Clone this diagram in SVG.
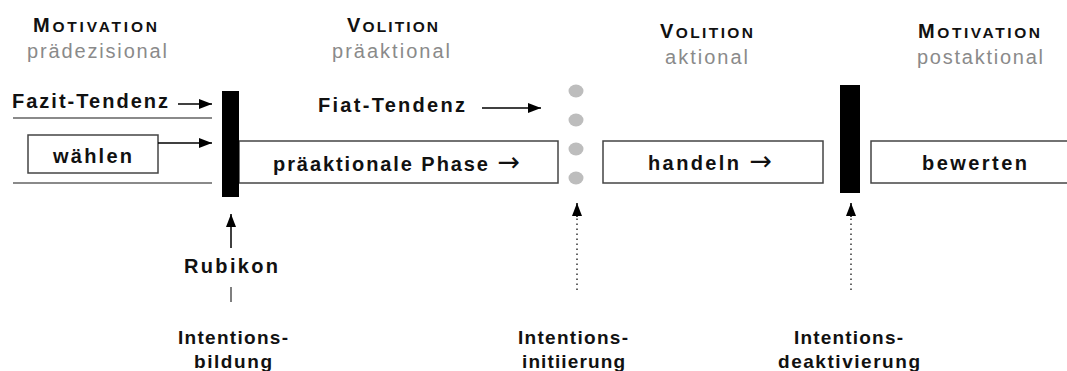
<svg xmlns="http://www.w3.org/2000/svg" width="1067" height="371" viewBox="0 0 1067 371">
  <style>
    text { font-family: "Liberation Sans", Arial, sans-serif; fill: #111; }
    .hd { font-weight: bold; font-size: 15.5px; }
    .hd .cap { font-size: 20px; }
    .sub { font-size: 20px; fill: #8a8a8a; }
    .lbl { font-weight: bold; font-size: 20px; }
    .low { font-weight: bold; font-size: 19px; }
    .ar { font-family: "DejaVu Sans", sans-serif; font-weight: normal; font-size: 27px; }
    .box { fill: #fff; stroke: #444; stroke-width: 1.5; }
    .bar { fill: #000; }
    .rule { stroke: #8a8a8a; stroke-width: 2; }
    .arr { stroke: #000; stroke-width: 1.5; fill: none; }
    .tick { stroke: #555; stroke-width: 1.5; }
    .dot-line { stroke: #333; stroke-width: 1.5; stroke-dasharray: 1.5 3.5; fill: none; }
    .dot { fill: #bdbdbd; }
  </style>
  <defs>
    <marker id="ah" markerUnits="userSpaceOnUse" markerWidth="14" markerHeight="12" refX="13" refY="5" orient="auto">
      <path d="M0,0 L13,5 L0,10 z" fill="#000"/>
    </marker>
  </defs>
  <rect width="1067" height="371" fill="#fff"/>

  <g id="headers">
    <text class="hd" x="33" y="32" textLength="124" lengthAdjust="spacing"><tspan class="cap">M</tspan>OTIVATION</text>
    <text class="sub" x="27" y="58" textLength="140" lengthAdjust="spacing">prädezisional</text>
    <text class="hd" x="347" y="32" textLength="91" lengthAdjust="spacing"><tspan class="cap">V</tspan>OLITION</text>
    <text class="sub" x="332" y="58" textLength="118" lengthAdjust="spacing">präaktional</text>
    <text class="hd" x="660" y="38" textLength="93" lengthAdjust="spacing"><tspan class="cap">V</tspan>OLITION</text>
    <text class="sub" x="665" y="64" textLength="83" lengthAdjust="spacing">aktional</text>
    <text class="hd" x="918" y="38" textLength="122" lengthAdjust="spacing"><tspan class="cap">M</tspan>OTIVATION</text>
    <text class="sub" x="917" y="64" textLength="126" lengthAdjust="spacing">postaktional</text>
  </g>

  <g id="rules">
    <line class="rule" x1="13" y1="118" x2="212" y2="118"/>
    <line class="rule" x1="13" y1="183" x2="212" y2="183"/>
  </g>

  <g id="fazit">
    <text class="lbl" x="12" y="108" textLength="156" lengthAdjust="spacing">Fazit-Tendenz</text>
  </g>

  <g id="waehlen">
    <rect class="box" x="28" y="135" width="130" height="38"/>
    <text class="lbl" x="53" y="163" textLength="79" lengthAdjust="spacing">wählen</text>
  </g>

  <g id="praeaktionale">
    <rect class="box" x="239" y="141" width="319" height="42"/>
    <text class="lbl" x="273" y="171" textLength="247" lengthAdjust="spacing">präaktionale Phase <tspan class="ar">→</tspan></text>
  </g>

  <g id="fiat">
    <text class="lbl" x="318" y="112" textLength="147" lengthAdjust="spacing">Fiat-Tendenz</text>
  </g>

  <g id="handeln">
    <rect class="box" x="603" y="141" width="220" height="42"/>
    <text class="lbl" x="648" y="170" textLength="124" lengthAdjust="spacing">handeln <tspan class="ar">→</tspan></text>
  </g>

  <g id="bewerten">
    <rect class="box" x="871" y="141" width="210" height="42"/>
    <text class="lbl" x="922" y="170" textLength="105" lengthAdjust="spacing">bewerten</text>
  </g>

  <g id="rubikon-bar">
    <rect class="bar" x="222" y="91" width="17" height="106"/>
  </g>

  <g id="deaktivierung-bar">
    <rect class="bar" x="840" y="85" width="20" height="108"/>
  </g>

  <g id="initiierung-dots">
    <ellipse class="dot" cx="576" cy="91" rx="7.5" ry="6.5"/>
    <ellipse class="dot" cx="576" cy="120" rx="7.5" ry="6.5"/>
    <ellipse class="dot" cx="576" cy="149" rx="7.5" ry="6.5"/>
    <ellipse class="dot" cx="576" cy="178" rx="7.5" ry="6.5"/>
  </g>

  <g id="rubikon">
    <text class="lbl" x="184" y="273" textLength="94" lengthAdjust="spacing">Rubikon</text>
  </g>

  <g id="intentionsbildung">
    <text class="low" x="178" y="344" textLength="110" lengthAdjust="spacing">Intentions-</text>
    <text class="low" x="194" y="368" textLength="78" lengthAdjust="spacing">bildung</text>
  </g>

  <g id="intentionsinitiierung">
    <text class="low" x="518" y="344" textLength="110" lengthAdjust="spacing">Intentions-</text>
    <text class="low" x="522" y="368" textLength="103" lengthAdjust="spacing">initiierung</text>
  </g>

  <g id="intentionsdeaktivierung">
    <text class="low" x="794" y="344" textLength="109" lengthAdjust="spacing">Intentions-</text>
    <text class="low" x="778" y="368" textLength="142" lengthAdjust="spacing">deaktivierung</text>
  </g>

  <g id="connectors">
    <line class="arr" x1="178" y1="104" x2="212" y2="104" marker-end="url(#ah)"/>
    <line class="arr" x1="158" y1="143" x2="212" y2="143" marker-end="url(#ah)"/>
    <line class="arr" x1="482" y1="108" x2="541" y2="108" marker-end="url(#ah)"/>
    <line class="arr" x1="231" y1="248" x2="231" y2="214" marker-end="url(#ah)"/>
    <line class="tick" x1="231" y1="287" x2="231" y2="302"/>
    <line class="dot-line" x1="577" y1="290" x2="577" y2="216"/>
    <line class="arr" x1="577" y1="217" x2="577" y2="203" marker-end="url(#ah)"/>
    <line class="dot-line" x1="851" y1="290" x2="851" y2="216"/>
    <line class="arr" x1="851" y1="217" x2="851" y2="203" marker-end="url(#ah)"/>
  </g>
</svg>
